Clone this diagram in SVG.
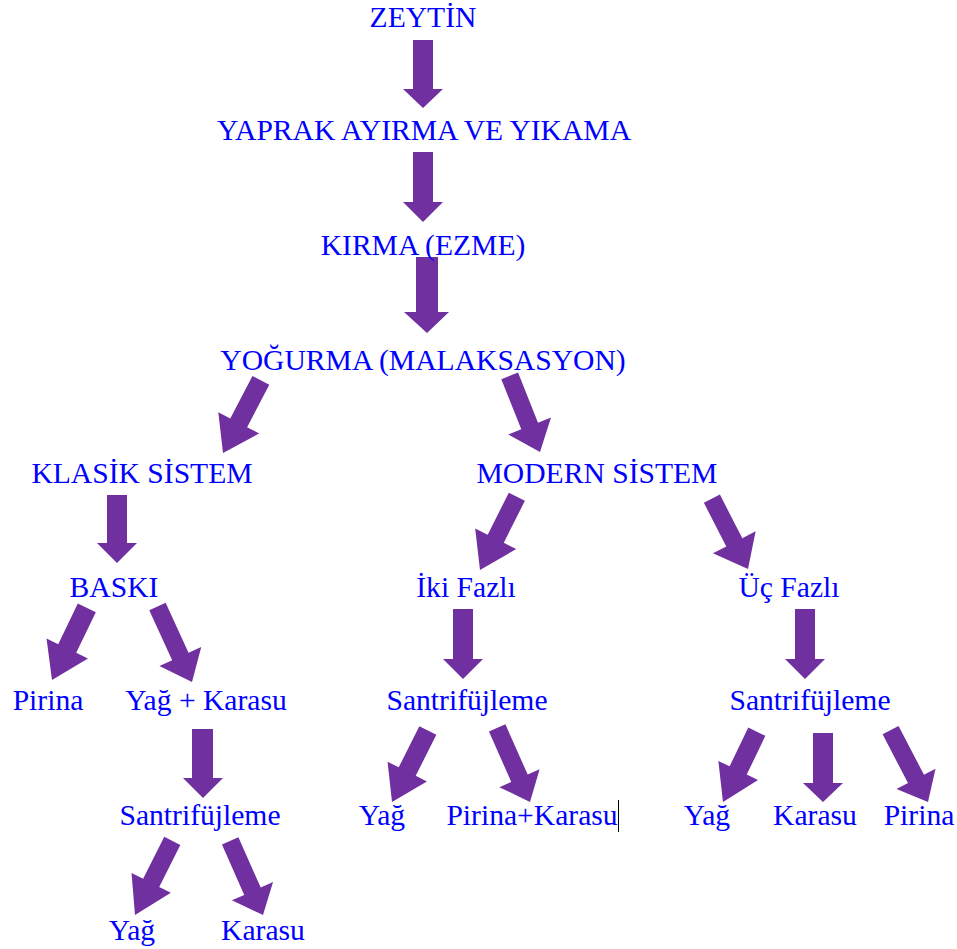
<svg xmlns="http://www.w3.org/2000/svg" width="957" height="949" viewBox="0 0 957 949">
<style>
.t{font-family:"Liberation Serif","Times New Roman",serif;font-size:29.6px;fill:#0000FF;text-anchor:middle}
.a{fill:#7030A0}
</style>
<rect width="957" height="949" fill="#ffffff"/>
<g id="connectors">
<polygon class="a" points="413,40 433,40 433,89 443,89 423,108 403,89 413,89"/>
<polygon class="a" points="413,152 433,152 433,202 443,202 423,222 403,202 413,202"/>
<polygon class="a" points="416,257 438,257 438,312 449,312 427,333 404,312 416,312"/>
<polygon class="a" transform="translate(223,453) rotate(27.5)" points="-9.5,-82 9.5,-82 9.5,-34 23,-34 0,0 -23,-34 -9.5,-34"/>
<polygon class="a" transform="translate(540,452) rotate(-21.7)" points="-9,-82 9,-82 9,-28 23,-28 0,0 -23,-28 -9,-28"/>
<polygon class="a" points="107,495 127,495 127,543 137,543 117,563 97,543 107,543"/>
<polygon class="a" transform="translate(480,570) rotate(26.7)" points="-9,-82 9,-82 9,-35 23,-35 0,0 -23,-35 -9,-35"/>
<polygon class="a" transform="translate(748,569) rotate(-27.2)" points="-9,-79 9,-79 9,-30 24,-30 0,0 -24,-30 -9,-30"/>
<polygon class="a" points="453,609 473,609 473,659 483,659 463,679 443,659 453,659"/>
<polygon class="a" points="795,609 815,609 815,659 825,659 805,679 785,659 795,659"/>
<polygon class="a" transform="translate(52,680) rotate(25.8)" points="-10,-80 10,-80 10,-35 23,-35 0,0 -23,-35 -10,-35"/>
<polygon class="a" transform="translate(192,682) rotate(-24.6)" points="-9,-83 9,-83 9,-28 23,-28 0,0 -23,-28 -9,-28"/>
<polygon class="a" points="192,729 213,729 213,778 223,778 203,798 183,778 192,778"/>
<polygon class="a" transform="translate(392,802) rotate(26.6)" points="-9.5,-80 9.5,-80 9.5,-34 22,-34 0,0 -22,-34 -9.5,-34"/>
<polygon class="a" transform="translate(530,802) rotate(-23.9)" points="-9,-81 9,-81 9,-26 22,-26 0,0 -22,-26 -9,-26"/>
<polygon class="a" transform="translate(723,802) rotate(25.7)" points="-9.5,-78 9.5,-78 9.5,-35 22,-35 0,0 -22,-35 -9.5,-35"/>
<polygon class="a" points="813,733 833,733 833,783 843,783 823,802 803,783 813,783"/>
<polygon class="a" transform="translate(928,802) rotate(-27.5)" points="-9,-81 9,-81 9,-26 22,-26 0,0 -22,-26 -9,-26"/>
<polygon class="a" transform="translate(135,915) rotate(26.7)" points="-9,-83 9,-83 9,-36 22,-36 0,0 -22,-36 -9,-36"/>
<polygon class="a" transform="translate(263,915) rotate(-23.9)" points="-9,-81 9,-81 9,-26 22.5,-26 0,0 -22.5,-26 -9,-26"/>
</g>
<g id="n-zeytin"><text class="t" x="423" y="27">ZEYTİN</text></g>
<g id="n-yaprak"><text class="t" x="424" y="140">YAPRAK AYIRMA VE YIKAMA</text></g>
<g id="n-kirma"><text class="t" x="423" y="255">KIRMA (EZME)</text></g>
<g id="n-yogurma"><text class="t" x="423" y="370">YOĞURMA (MALAKSASYON)</text></g>
<g id="n-klasik"><text class="t" x="142" y="483">KLASİK SİSTEM</text></g>
<g id="n-modern"><text class="t" x="597" y="483">MODERN SİSTEM</text></g>
<g id="n-baski"><text class="t" x="114" y="597">BASKI</text></g>
<g id="n-iki"><text class="t" x="466" y="597">İki Fazlı</text></g>
<g id="n-uc"><text class="t" x="789" y="597">Üç Fazlı</text></g>
<g id="n-pirina1"><text class="t" x="48" y="710">Pirina</text></g>
<g id="n-yagkarasu"><text class="t" x="206" y="710">Yağ + Karasu</text></g>
<g id="n-sant2"><text class="t" x="467" y="710">Santrifüjleme</text></g>
<g id="n-sant3"><text class="t" x="810" y="710">Santrifüjleme</text></g>
<g id="n-sant1"><text class="t" x="200" y="825">Santrifüjleme</text></g>
<g id="n-yag2"><text class="t" x="382" y="825">Yağ</text></g>
<g id="n-pirinakarasu"><text class="t" x="532" y="825">Pirina+Karasu</text><line x1="618.5" y1="800" x2="618.5" y2="832" stroke="#000000" stroke-width="1"/></g>
<g id="n-yag3"><text class="t" x="707" y="825">Yağ</text></g>
<g id="n-karasu3"><text class="t" x="815" y="825">Karasu</text></g>
<g id="n-pirina3"><text class="t" x="919" y="825">Pirina</text></g>
<g id="n-yag1"><text class="t" x="132" y="940">Yağ</text></g>
<g id="n-karasu1"><text class="t" x="263" y="940">Karasu</text></g>
</svg>
